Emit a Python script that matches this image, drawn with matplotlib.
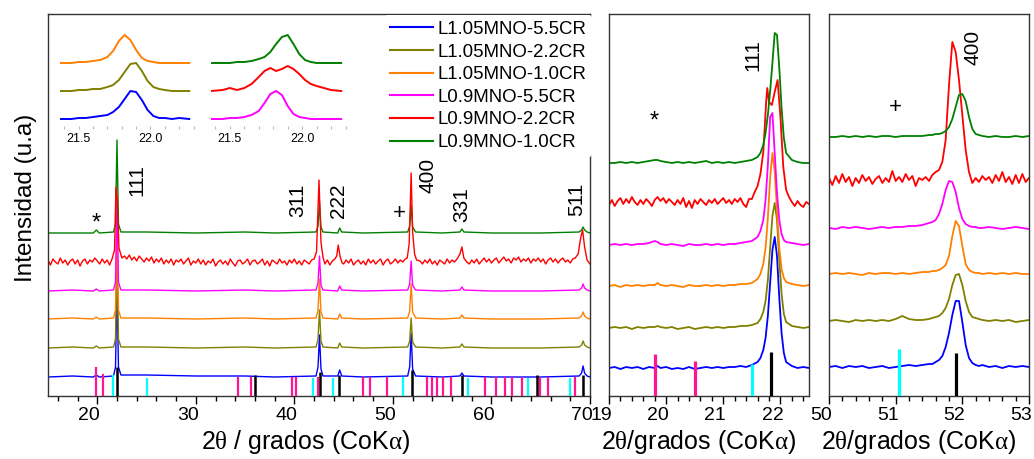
import numpy as np
import matplotlib
matplotlib.use("Agg")
import matplotlib.pyplot as plt
from matplotlib.ticker import MultipleLocator
from matplotlib.transforms import ScaledTranslation
from matplotlib.lines import Line2D

plt.rcParams['font.family'] = ['Liberation Sans', 'DejaVu Sans']
plt.rcParams['mathtext.fontset'] = 'custom'
plt.rcParams['mathtext.rm'] = 'Liberation Serif'
plt.rcParams['mathtext.it'] = 'Liberation Serif:italic'

# ---------------- data ----------------
series_names = ["L1.05MNO-5.5CR", "L1.05MNO-2.2CR", "L1.05MNO-1.0CR",
                "L0.9MNO-5.5CR", "L0.9MNO-2.2CR", "L0.9MNO-1.0CR"]
series_colors = ["#0000FF", "#808000", "#FF8000", "#FF00FF", "#FF0000", "#008000"]

# main panel: shared 2theta grid (smooth series)
main_x = [15.0, 17.5, 19.6, 19.9, 20.2, 21.65, 21.85, 22.0, 22.15, 22.4,
          25.0, 30.0, 35.0, 38.0,
          42.2, 42.4, 42.55, 42.7, 42.9,
          44.4, 44.6, 44.8,
          47.0,
          51.5, 51.7, 51.85, 52.0, 52.3,
          55.0,
          56.8, 57.0, 57.2,
          60.0, 65.0,
          68.9, 69.15, 69.3, 69.45, 69.7, 70.0]
main_blue = [0, 1, 0, 2, 0, 1, 10, 92, 10, 2, 2, 1, 1, 0, 1, 10, 42, 8, 1, 1, 7, 1, 0,
             1, 10, 44, 8, 1, 0, 1, 4, 1, 0, 0, 1, 4, 11, 4, 1, 0]
main_olive = [0, 1, 0, 2, 0, 1, 9, 88, 9, 1, 1, 0, 1, 0, 1, 9, 38, 7, 1, 0, 5, 1, 0,
              1, 7, 30, 6, 1, 0, 1, 4, 1, 0, 0, 1, 3, 7, 3, 1, 0]
main_orange = [0, 1, 0, 2, 0, 1, 9, 93, 9, 1, 1, 0, 1, 0, 1, 9, 40, 7, 1, 0, 5, 1, 0,
               1, 8, 35, 7, 1, 0, 1, 4, 1, 0, 0, 1, 3, 7, 3, 1, 0]
main_pink = [0, 1, 0, 2, 0, 1, 9, 93, 9, 1, 1, 0, 1, 0, 1, 8, 35, 6, 1, 0, 5, 1, 0,
             1, 7, 30, 6, 1, 0, 1, 4, 1, 0, 0, 1, 3, 7, 3, 1, 0]
main_green = [0, 0, 0, 3, 0, 1, 9, 93, 9, 1, 1, 0, 1, 0, 1, 7, 31, 6, 1, 0, 5, 1, 0,
              1, 7, 28, 6, 1, 0, 1, 4, 1, 0, 0, 1, 3, 6, 3, 1, 0]

# noisy red series in the main panel
red_main_x = [
    15.0, 15.25, 15.5, 15.75, 16.0, 16.25, 16.5, 16.75, 17.0, 17.25, 17.5, 17.75, 18.0, 18.25,
    18.5, 18.75, 19.0, 19.25, 19.5, 19.75, 20.0, 20.25, 20.5, 20.75, 21.0, 21.25, 21.5,
    21.75, 21.9, 22.05, 22.2,
    22.5, 22.75, 23.0, 23.25, 23.5, 23.75, 24.0, 24.25, 24.5, 24.75,
    25.0, 25.25, 25.5, 25.75, 26.0, 26.25, 26.5, 26.75, 27.0, 27.25,
    27.5, 27.75, 28.0, 28.25, 28.5, 28.75, 29.0, 29.25, 29.5, 29.75,
    30.0, 30.25, 30.5, 30.75, 31.0, 31.25, 31.5, 31.75, 32.0, 32.25,
    32.5, 32.75, 33.0, 33.25, 33.5, 33.75, 34.0, 34.25, 34.5, 34.75,
    35.0, 35.25, 35.5, 35.75, 36.0, 36.25, 36.5, 36.75, 37.0, 37.25,
    37.5, 37.75, 38.0, 38.25, 38.5, 38.75, 39.0, 39.25, 39.5, 39.75,
    40.0, 40.25, 40.5, 40.75, 41.0, 41.25, 41.5, 41.75, 42.0,
    42.25, 42.5, 42.7, 42.9, 43.1, 43.35, 43.6, 43.85, 44.1, 44.3, 44.45, 44.65, 44.85,
    45.0, 45.25, 45.5, 45.75, 46.0, 46.25, 46.5, 46.75, 47.0, 47.25,
    47.5, 47.75, 48.0, 48.25, 48.5, 48.75, 49.0, 49.25, 49.5, 49.75,
    50.0, 50.25, 50.5, 50.75, 51.0, 51.25,
    51.45, 51.65, 51.85, 52.0, 52.2, 52.4,
    52.75, 53.0, 53.25, 53.5, 53.75, 54.0, 54.25, 54.5, 54.75, 55.0, 55.25, 55.5, 55.75,
    56.0, 56.25, 56.5,
    56.8, 57.0, 57.2,
    57.5, 57.75, 58.0, 58.25, 58.5, 58.75, 59.0, 59.25, 59.5, 59.75,
    60.0, 60.25, 60.5, 60.75, 61.0, 61.25, 61.5, 61.75, 62.0, 62.25,
    62.5, 62.75, 63.0, 63.25, 63.5, 63.75, 64.0, 64.25, 64.5, 64.75,
    65.0, 65.25, 65.5, 65.75, 66.0, 66.25, 66.5, 66.75, 67.0, 67.25,
    67.5, 67.75, 68.0, 68.25, 68.5,
    68.8, 69.05, 69.25, 69.45, 69.7, 70.0]
red_main_y = [
    2, -3, 3, 0, -2, 4, -1, 2, -3, 1, 3, -2, 2, -4,
    1, 3, -2, 2, 0, 4, 1, -2, 3, -1, 2, -3, 3,
    12, 75, 60, 14,
    4, 6, 3, 7, 2, 5, 1, 6, 3, 0,
    4, 1, 5, -1, 3, 0, 4, -2, 2, -1,
    3, -3, 2, 0, 3, -2, 1, 4, -3, 1,
    -1, 3, -2, 2, -3, 1, -1, 3, -4, 0,
    2, -2, 1, -3, 3, -1, -4, 1, 2, -2,
    0, 3, -3, 1, 2, -2, 0, 3, -3, 1,
    -4, 2, 0, -2, 3, -1, 1, -3, 2, -1,
    3, -2, 1, -3, 2, 0, -2, 2, 3,
    10, 82, 20, 5, -2, 2, -3, 1, 3, 6, 17, 5, -1,
    -2, 2, -1, 3, -3, 0, 2, -2, 1, -3,
    3, -1, 2, -2, 1, 3, -3, 1, 3, -2,
    0, 3, -1, 2, 0, 3,
    4, 18, 89, 30, 8, 2,
    1, -2, 2, -1, 3, -2, 1, -3, 2, 0, -2, 3, -1,
    2, 0, 3,
    8, 15, 4,
    0, -2, 2, -1, 3, -2, 1, 4, 0, 3,
    -1, 2, 4, -1, 2, 5, 1, 3, -1, 4,
    2, 5, 0, 3, 1, 4, -1, 3, 1, 4,
    0, 3, -2, 2, 4, 0, 3, -1, 2, 4,
    0, 2, -1, 3, 4,
    8, 24, 32, 15, 2, -2]

# reference patterns (stick positions / heights)
ref_pink_x = [19.87, 20.55, 34.3, 35.6, 39.8, 40.2, 42.4, 47.0, 47.65, 49.4, 53.45, 53.95,
              54.5, 55.05, 55.85, 59.35, 60.5, 61.4, 62.05, 63.1, 64.95, 65.7, 68.5]
ref_pink_h = [29, 22, 19, 19, 19, 19, 19, 19, 19, 19, 19, 19,
              19, 19, 19, 19, 19, 19, 19, 19, 19, 19, 19]
ref_cyan_x = [21.56, 25.0, 41.9, 43.9, 51.0, 57.6, 63.75, 68.0]
ref_cyan_h = [21, 18, 18, 18, 19, 18, 18, 18]
ref_black_x = [21.97, 36.05, 42.6, 44.5, 51.9, 57.0, 64.6, 69.3]
ref_black_h = [29, 21, 24, 21, 26, 21, 21, 21]

# zoom panel 1 (111 reflection)
p1_x = [19.0, 19.1, 19.2, 19.3, 19.4, 19.5, 19.6, 19.7, 19.8, 19.85,
        19.9,
        20.0, 20.1, 20.2, 20.3, 20.4, 20.5, 20.6, 20.7, 20.8, 20.9, 21.0, 21.1, 21.2,
        21.3, 21.4, 21.5, 21.6,
        21.65, 21.7, 21.74, 21.78, 21.82, 21.86, 21.9, 21.94, 21.98, 22.02, 22.06, 22.1,
        22.2, 22.3, 22.4, 22.5]
p1_blue = [0, 1, -1, 1, 0, 1, -1, 1, 0, 2, 0,
           1, -1, 0, -1, 1, -1, 0, 1, 0, 1, 0, 1, 1, 2, 1, 3, 6,
           10, 18, 30, 52, 85, 118, 131, 112, 70, 35, 15, 6,
           2, 0, 1, 0]
p1_olive = [0, 1, 0, 1, -1, 1, 0, 1, 1, 2, 1,
            0, 1, -1, 0, 1, -1, 0, 1, 0, 1, 0, 1, 1, 2, 2, 3, 5,
            9, 16, 27, 48, 80, 112, 125, 108, 68, 34, 14, 6,
            2, 1, 0, 1]
p1_orange = [0, 1, -1, 1, 0, 1, 0, 1, 1, 3, 1,
             0, 1, 0, -1, 1, 0, 0, 1, 0, 1, 0, 1, 1, 2, 2, 3, 7,
             12, 22, 38, 68, 108, 133, 115, 75, 38, 17, 8, 4,
             2, 1, 0, 1]
p1_pink = [0, 1, 0, 1, 0, 1, 1, 2, 4, 3, 1,
           0, 1, 0, -1, 1, 0, 0, 1, 0, 1, 0, 1, 1, 2, 3, 4, 8,
           14, 25, 45, 80, 128, 132, 92, 52, 25, 11, 5, 3,
           2, 1, 0, 1]
p1_green = [0, 0, 1, 0, 1, 0, 1, 2, 3, 3, 2,
            1, 0, 1, 0, 1, 0, 1, 2, 0, 1, 0, 1, 0, 1, 2, 3, 6,
            10, 18, 30, 48, 72, 100, 130, 128, 95, 55, 25, 10,
            3, 1, 0, 0]
p1_red_x = [19.0, 19.05, 19.1, 19.15, 19.2, 19.25, 19.3, 19.35, 19.4, 19.45,
            19.5, 19.55, 19.6, 19.65, 19.7, 19.75, 19.8, 19.85, 19.9, 19.95,
            20.0, 20.05, 20.1, 20.15, 20.2, 20.25, 20.3, 20.35, 20.4, 20.45,
            20.5, 20.55, 20.6, 20.65, 20.7, 20.75, 20.8, 20.85, 20.9, 20.95,
            21.0, 21.05, 21.1, 21.15, 21.2, 21.25, 21.3, 21.35, 21.4, 21.45,
            21.5, 21.55, 21.6, 21.65, 21.7, 21.75,
            21.77, 21.8, 21.85, 21.9, 21.95, 22.0, 22.05, 22.1, 22.15, 22.2,
            22.25, 22.3, 22.35, 22.4, 22.45, 22.5]
p1_red_y = [-3, 2, -4, 1, 4, -2, 3, -1, 5, 0,
            -3, 2, -2, 3, 0, -4, 2, 5, 1, 4,
            -1, 3, 0, -3, 2, -2, 4, -5, 1, -6,
            2, -2, 3, 0, -3, 2, -1, 3, -2, 1,
            4, -1, 2, -2, 3, 0, 4, -2, -5, 3,
            3, 10, 16, 28, 50, 100,
            114, 100, 97, 110, 122, 85, 35, 12, 5, 0,
            -4, 1, -3, -5, 0, -2]
p1_ref_pink_x = [19.8, 20.51]
p1_ref_pink_h = [42, 35]
p1_ref_cyan_x = [21.5]
p1_ref_cyan_h = [32]
p1_ref_black_x = [21.84]
p1_ref_black_h = [44]

# zoom panel 2 (400 reflection)
p2_x = [50.0, 50.1, 50.2, 50.3, 50.4, 50.5, 50.6, 50.7, 50.8, 50.9, 51.0, 51.1, 51.2, 51.3, 51.4,
        51.5, 51.55, 51.6, 51.65, 51.7, 51.75, 51.8, 51.85, 51.9, 51.95, 52.0, 52.05, 52.1,
        52.15, 52.2, 52.25, 52.3,
        52.4, 52.5, 52.6, 52.7, 52.8, 52.9, 53.0]
p2_blue = [0, 1, -1, 1, 0, 1, -1, 0, 1, -1, 0, 1, 2, 1, 2,
           3, 3, 5, 7, 11, 20, 34, 52, 66, 66, 45, 22, 9, 4, 2, 1, 2,
           0, 1, -1, 1, 0, 1, 0]
p2_olive = [0, 1, 0, -1, 1, 0, 1, 0, 1, 0, 2, 5, 2, 1, 1,
            2, 3, 4, 5, 8, 13, 22, 36, 46, 47, 36, 20, 9, 4, 3, 2, 1,
            0, 1, 0, 1, -1, 0, 1]
p2_orange = [0, 1, 0, 1, 0, -1, 1, 0, 1, 1, 0, 1, 0, 1, 2,
             2, 3, 3, 4, 6, 9, 18, 38, 53, 48, 28, 10, 4, 2, 1, 1, 0,
             1, 0, 1, 0, 1, 0, 0]
p2_pink = [0, -1, 1, 0, 1, 0, -1, 0, 1, 0, 1, 1, 2, 2, 3,
           5, 6, 8, 14, 24, 38, 47, 46, 36, 20, 9, 4, 2, 1, 1, 0, 0,
           1, 0, -1, 0, 1, 0, -1]
p2_green = [0, 0, 1, 0, 1, 0, 1, 0, 1, 1, 0, 1, 1, 1, 1,
            2, 2, 3, 3, 4, 6, 10, 18, 30, 42, 43, 36, 20, 8, 3, 2, 1,
            0, 1, 0, 0, 1, 0, 1]
p2_red_x = [50.0, 50.05, 50.1, 50.15, 50.2, 50.25, 50.3, 50.35, 50.4, 50.45,
            50.5, 50.55, 50.6, 50.65, 50.7, 50.75, 50.8, 50.85, 50.9, 50.95,
            51.0, 51.05, 51.1, 51.15, 51.2, 51.25, 51.3, 51.35, 51.4, 51.45,
            51.5, 51.55, 51.6, 51.65, 51.7, 51.75, 51.8, 51.85, 51.9, 51.95,
            52.0, 52.05, 52.1, 52.15, 52.2, 52.25, 52.3, 52.35, 52.4, 52.45,
            52.5, 52.55, 52.6, 52.65, 52.7, 52.75, 52.8, 52.85, 52.9, 52.95, 53.0]
p2_red_y = [2, -5, 4, -3, 6, -2, 3, -6, 2, -3,
            5, -1, 3, -4, 1, 4, -3, 2, -2, 9,
            -1, 3, -2, 6, 0, 4, -6, 2, 0, 3,
            -1, 5, 8, 10, 18, 40, 95, 138, 128, 100,
            65, 30, 8, -3, 2, -2, 4, 0, 3, -3,
            5, -1, 8, -2, 3, -4, 5, -3, 6, -2, 2]
p2_ref_cyan_x = [51.05]
p2_ref_cyan_h = [47]
p2_ref_black_x = [51.9]
p2_ref_black_h = [43]

# insets (111 detail)
ins_x = [21.37, 21.45, 21.5, 21.55, 21.6, 21.65, 21.7, 21.74, 21.78, 21.82, 21.86, 21.9,
         21.94, 21.98, 22.02, 22.06, 22.1, 22.15, 22.2, 22.27]
ins_blue = [0, 0, 1, 1, 2, 3, 4, 7, 12, 20, 28, 27, 19, 9, 3, 1, 1, 0, 1, 0]
ins_olive = [0, 0, 1, 1, 2, 2, 4, 6, 11, 19, 27, 28, 20, 10, 4, 2, 1, 0, 0, 0]
ins_orange = [0, 0, 1, 1, 2, 3, 6, 12, 22, 28, 23, 13, 5, 2, 1, 0, 0, 0, 0, 0]
ins_pink = [0, 0, 1, 1, 2, 4, 8, 16, 25, 28, 24, 13, 5, 2, 1, 0, 0, 0, 0, 0]
ins_red = [0, 1, 3, 1, 3, 7, 14, 20, 23, 20, 22, 25, 22, 17, 11, 7, 5, 3, 1, 0]
ins_green = [0, 0, 0, 1, 1, 2, 4, 6, 11, 19, 26, 28, 19, 9, 3, 1, 0, 0, 0, 0]

# ---------------- layout ----------------
W, H, DPI = 1034, 459, 100
PINK_REF, CYAN_REF, BLACK_REF = "#FF1493", "#00FFFF", "#000000"

fig = plt.figure(figsize=(W / DPI, H / DPI), dpi=DPI)
fig.patch.set_facecolor("white")


def add_ax(l, t, r, b):
    return fig.add_axes([l / W, 1 - b / H, (r - l) / W, (b - t) / H])


def style_frame(a, xlim, major, minor):
    a.set_xlim(*xlim)
    a.set_ylim(0, 382)
    a.set_yticks([])
    a.set_xticks(major)
    a.xaxis.set_minor_locator(MultipleLocator(minor))
    a.tick_params(axis="x", which="major", direction="out", length=6, width=1,
                  labelsize=14, pad=2)
    a.tick_params(axis="x", which="minor", direction="out", length=3.5, width=1)
    for s in a.spines.values():
        s.set_color("#333333")
        s.set_linewidth(1.0)
    off = ScaledTranslation(-8 / DPI, 0, fig.dpi_scale_trans)
    for t in a.xaxis.get_major_ticks():
        t.label1.set_transform(t.label1.get_transform() + off)


ax = add_ax(48, 14, 590, 396)
ax1 = add_ax(609, 14, 809, 396)
ax2 = add_ax(829, 14, 1029, 396)
style_frame(ax, (15, 70), [20, 30, 40, 50, 60, 70], 2)
style_frame(ax1, (19, 22.5), [19, 20, 21, 22], 0.2)
style_frame(ax2, (50, 53), [50, 51, 52, 53], 0.2)

# ---- main panel ----
main_offsets = [19, 48, 77, 105, 134, 163]
smooth_main = {0: main_blue, 1: main_olive, 2: main_orange, 3: main_pink, 5: main_green}
for i in [0, 1, 2, 3, 5]:
    ax.plot(main_x, np.array(smooth_main[i]) + main_offsets[i], color=series_colors[i],
            lw=1.0, zorder=2)
ax.plot(red_main_x, np.array(red_main_y) + main_offsets[4], color=series_colors[4],
        lw=1.0, zorder=2)
ax.vlines(ref_pink_x, 0, ref_pink_h, color=PINK_REF, lw=1.6, zorder=3)
ax.vlines(ref_cyan_x, 0, ref_cyan_h, color=CYAN_REF, lw=1.6, zorder=3)
ax.vlines(ref_black_x, 0, ref_black_h, color=BLACK_REF, lw=1.8, zorder=3)

lab_kw = dict(fontsize=15, ha="center", va="center", rotation=90)
for txt, x, y in [("111", 24.03, 216), ("311", 40.37, 196), ("222", 44.43, 195),
                  ("400", 53.56, 221), ("331", 57.01, 191), ("511", 68.68, 197)]:
    ax.text(x, y, txt, **lab_kw)
ax.text(19.94, 172, "*", fontsize=17, ha="center", va="center")
ax.text(50.62, 183, "+", fontsize=16, ha="center", va="center")

handles = [Line2D([], [], color=c, lw=1.5) for c in series_colors]
leg = ax.legend(handles, series_names, loc="upper left",
                bbox_to_anchor=((390 - 5.6) / W, 1 - (21 - 5.6) / H),
                bbox_transform=fig.transFigure, fontsize=13.4, frameon=True,
                borderpad=0.3, borderaxespad=0, handlelength=2.3, handletextpad=0.27,
                labelspacing=0.3)
leg.get_frame().set_facecolor("white")
leg.get_frame().set_edgecolor("none")
leg.get_frame().set_alpha(1)
leg.set_zorder(5)

# ---- zoom panel 1 ----
p1_offsets = [28, 68, 110, 151, 194, 233]
smooth_p1 = {0: p1_blue, 1: p1_olive, 2: p1_orange, 3: p1_pink, 5: p1_green}
ax1.vlines(p1_ref_pink_x, 0, p1_ref_pink_h, color=PINK_REF, lw=2.3, zorder=3)
ax1.vlines(p1_ref_cyan_x, 0, p1_ref_cyan_h, color=CYAN_REF, lw=2.3, zorder=3)
ax1.vlines(p1_ref_black_x, 0, p1_ref_black_h, color=BLACK_REF, lw=2.3, zorder=3)
for i in range(6):
    if i == 4:
        ax1.plot(p1_red_x, np.array(p1_red_y) + p1_offsets[i], color=series_colors[i],
                 lw=1.3, zorder=2)
    else:
        ax1.plot(p1_x, np.array(smooth_p1[i]) + p1_offsets[i], color=series_colors[i],
                 lw=1.3, zorder=2)
ax1.text(21.52, 341, "111", **lab_kw)
ax1.text(19.8, 274, "*", fontsize=17, ha="center", va="center")

# ---- zoom panel 2 ----
p2_offsets = [29, 75, 122, 168, 216, 259]
smooth_p2 = {0: p2_blue, 1: p2_olive, 2: p2_orange, 3: p2_pink, 5: p2_green}
ax2.vlines(p2_ref_cyan_x, 0, p2_ref_cyan_h, color=CYAN_REF, lw=2.3, zorder=3)
ax2.vlines(p2_ref_black_x, 0, p2_ref_black_h, color=BLACK_REF, lw=2.3, zorder=3)
for i in range(6):
    if i == 4:
        ax2.plot(p2_red_x, np.array(p2_red_y) + p2_offsets[i], color=series_colors[i],
                 lw=1.3, zorder=2)
    else:
        ax2.plot(p2_x, np.array(smooth_p2[i]) + p2_offsets[i], color=series_colors[i],
                 lw=1.3, zorder=2)
ax2.text(52.16, 349, "400", **lab_kw)
ax2.text(50.99, 289, "+", fontsize=16, ha="center", va="center")

# ---- insets ----
ins_offsets = [10, 38, 66]


def style_inset(a):
    a.set_xlim(21.37, 22.31)
    a.set_ylim(0, 107)
    a.set_facecolor("none")
    a.set_yticks([])
    a.set_xticks([21.5, 22.0])
    a.set_xticklabels(["21.5", "22.0"])
    a.xaxis.set_minor_locator(MultipleLocator(0.1))
    a.tick_params(axis="x", which="both", direction="in", length=2, width=0.8,
                  color="#BBBBBB", labelsize=9, pad=3)
    for s in a.spines.values():
        s.set_visible(False)


in1 = add_ax(60, 22, 195, 129)
in2 = add_ax(211, 22, 347, 129)
style_inset(in1)
style_inset(in2)
for k, (i, ys) in enumerate([(0, ins_blue), (1, ins_olive), (2, ins_orange)]):
    in1.plot(ins_x, np.array(ys) + ins_offsets[k], color=series_colors[i], lw=1.4)
for k, (i, ys) in enumerate([(3, ins_pink), (4, ins_red), (5, ins_green)]):
    in2.plot(ins_x, np.array(ys) + ins_offsets[k], color=series_colors[i], lw=1.4)

# ---- axis labels ----
fig.text(26 / W, 1 - 198 / H, "Intensidad (u.a)", rotation=90, fontsize=17.5,
         ha="center", va="center")
fig.text(306 / W, 1 - 442 / H, r"2$\mathrm{\theta}$ / grados (CoK$\mathrm{\alpha}$)",
         fontsize=18, ha="center", va="center")
fig.text(699 / W, 1 - 442 / H, r"2$\mathrm{\theta}$/grados (CoK$\mathrm{\alpha}$)",
         fontsize=18, ha="center", va="center")
fig.text(919 / W, 1 - 442 / H, r"2$\mathrm{\theta}$/grados (CoK$\mathrm{\alpha}$)",
         fontsize=18, ha="center", va="center")

fig.savefig("out.png", dpi=DPI, facecolor="white")
